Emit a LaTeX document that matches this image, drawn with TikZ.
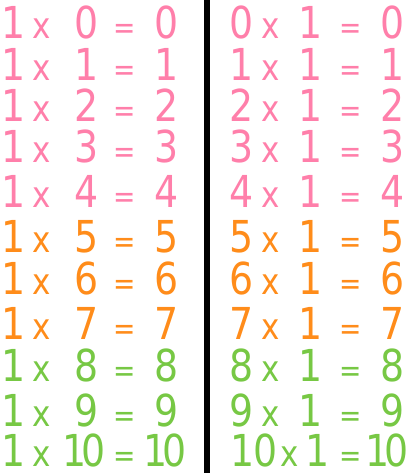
\documentclass[tikz,border=0pt]{standalone}
\usepackage{fontspec}
\setmainfont{DejaVu Sans}[FakeStretch=0.86]
\definecolor{pinkc}{HTML}{FF7FAA}
\definecolor{orangec}{HTML}{FF8C1A}
\definecolor{greenc}{HTML}{77C844}
\tikzset{
  digit/.style={anchor=base, inner sep=0pt, font=\fontsize{44}{44}\selectfont},
  times/.style={anchor=base, inner sep=0pt, font=\fontsize{36}{36}\selectfont},
  eqsign/.style={anchor=base, inner sep=0pt, font=\fontsize{31}{31}\selectfont},
}
\begin{document}
\begin{tikzpicture}[x=1pt,y=1pt]
\useasboundingbox (0,0) rectangle (414,473);
\fill[white] (0,0) rectangle (414,473);
\fill[black] (204,0) rectangle (210,473);
\foreach \n/\b/\c in {0/39/pinkc,1/81/pinkc,2/122/pinkc,3/163/pinkc,4/208/pinkc,
                      5/253/orangec,6/295/orangec,7/340/orangec,
                      8/382/greenc,9/427/greenc}{
  \pgfmathsetmacro{\yy}{473-\b}
  \node[digit,text=\c] (La\n) at (14,\yy) {1};
  \node[times,text=\c] (Lx\n) at (42,\yy) {x};
  \node[digit,text=\c] (Lb\n) at (87,\yy) {\n};
  \node[eqsign,text=\c] (Le\n) at (125,\yy) {=};
  \node[digit,text=\c] (Lr\n) at (167,\yy) {\n};
  \node[digit,text=\c] (Ra\n) at (242,\yy) {\n};
  \node[times,text=\c] (Rx\n) at (271,\yy) {x};
  \node[digit,text=\c] (Rb\n) at (311,\yy) {1};
  \node[eqsign,text=\c] (Re\n) at (351,\yy) {=};
  \node[digit,text=\c] (Rr\n) at (393,\yy) {\n};
}
% row 10
\node[digit,text=greenc] (La10) at (14,6) {1};
\node[times,text=greenc] (Lx10) at (42,6) {x};
\node[digit,text=greenc] (Lb10) at (84,6) {1\kern-6pt0};
\node[eqsign,text=greenc] (Le10) at (125,6) {=};
\node[digit,text=greenc] (Lr10) at (165,6) {1\kern-6pt0};
\node[digit,text=greenc] (Ra10) at (254,6) {1\kern-1pt0};
\node[times,text=greenc] (Rx10) at (290,6) {x};
\node[digit,text=greenc] (Rb10) at (318,6) {1};
\node[eqsign,text=greenc] (Re10) at (351,6) {=};
\node[digit,text=greenc] (Rr10) at (387,6) {1\kern-6pt0};
\end{tikzpicture}
\end{document}
